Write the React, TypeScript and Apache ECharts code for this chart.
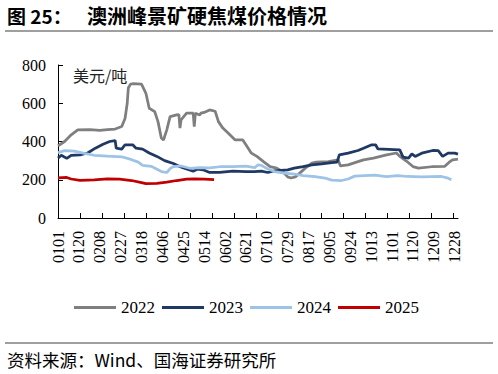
import React, { useEffect, useRef } from 'react';
import * as echarts from 'echarts';

// Day-of-year categories (MMDD)
const categories: string[] = (() => {
  const out: string[] = [];
  for (let i = 0; i < 365; i++) {
    const d = new Date(2023, 0, 1 + i);
    const mm = String(d.getMonth() + 1).padStart(2, '0');
    const dd = String(d.getDate()).padStart(2, '0');
    out.push(mm + dd);
  }
  return out;
})();

const tickLabels = [
  '0101', '0120', '0208', '0227', '0318', '0406', '0425', '0514', '0602', '0621',
  '0710', '0729', '0817', '0905', '0924', '1013', '1101', '1120', '1209', '1228',
];

const legendNames = ['2022', '2023', '2024', '2025'];
const lineColors = ['#7F7F7F', '#1F3864', '#9DC3E6', '#C00000'];

// [dayIndex, USD/t]
const data2022: [number, number][] = [
  [0, 377], [6, 400], [12, 435], [18, 461], [29, 462], [38, 458], [45, 462], [52, 465],
  [58, 478], [61, 520], [63, 600], [64, 680], [66, 700], [68, 702], [76, 700], [80, 652],
  [83, 574], [88, 556], [91, 504], [94, 418], [96, 408], [99, 461], [102, 530], [108, 539],
  [110, 540], [111, 470], [112, 513], [117, 548], [123, 548], [124, 478], [125, 548],
  [129, 539], [130, 548], [133, 552], [138, 565], [143, 558], [146, 504], [150, 470],
  [155, 443], [161, 409], [168, 409], [171, 383], [176, 339], [181, 322], [187, 295],
  [193, 269], [199, 261], [204, 245], [209, 215], [212, 209], [216, 215], [221, 240],
  [226, 265], [231, 287], [235, 292], [246, 295], [255, 304], [257, 272], [264, 278],
  [273, 295], [278, 304], [287, 313], [299, 330], [308, 340], [311, 322], [317, 298],
  [323, 269], [328, 261], [340, 268], [352, 270], [356, 292], [359, 304], [364, 308],
];

const data2023: [number, number][] = [
  [0, 313], [3, 328], [8, 312], [12, 328], [20, 330], [27, 340], [34, 365], [41, 386],
  [47, 400], [52, 405], [53, 365], [58, 360], [61, 383], [68, 383], [71, 365], [77, 360],
  [83, 340], [90, 322], [97, 300], [105, 285], [111, 268], [117, 256], [123, 245],
  [127, 256], [132, 252], [138, 238], [147, 238], [159, 245], [171, 243], [179, 243],
  [185, 245], [191, 238], [197, 247], [209, 252], [215, 261], [223, 269], [231, 278],
  [240, 283], [249, 290], [254, 292], [256, 330], [264, 339], [273, 353], [278, 365],
  [285, 382], [289, 383], [291, 362], [306, 358], [311, 356], [314, 318], [319, 313],
  [322, 335], [325, 322], [331, 339], [341, 353], [346, 352], [350, 322], [355, 339],
  [361, 339], [364, 334],
];

const data2024: [number, number][] = [
  [0, 342], [6, 352], [15, 350], [24, 338], [33, 328], [45, 323], [58, 320], [67, 305],
  [73, 292], [77, 275], [85, 270], [91, 252], [94, 243], [99, 238], [102, 258], [105, 269],
  [112, 272], [120, 260], [129, 264], [138, 262], [147, 268], [159, 269], [171, 271],
  [179, 263], [182, 278], [185, 275], [191, 256], [197, 243], [206, 235], [215, 230],
  [223, 222], [234, 216], [243, 209], [249, 198], [258, 196], [264, 204], [270, 219],
  [288, 224], [299, 216], [309, 221], [318, 217], [331, 215], [349, 217], [354, 210],
  [358, 200],
];

const data2025: [number, number][] = [
  [0, 210], [8, 212], [12, 204], [20, 197], [33, 199], [45, 204], [56, 203], [67, 196],
  [76, 185], [80, 180], [90, 181], [99, 188], [108, 196], [117, 203], [124, 205],
  [133, 203], [142, 201],
];

const seriesData = [data2022, data2023, data2024, data2025];

const SERIF = '"Liberation Serif", "Times New Roman", serif';
const CJK = '"Noto Sans CJK SC", sans-serif';

export default function App() {
  const ref = useRef<HTMLDivElement>(null);

  useEffect(() => {
    const chart = echarts.init(ref.current!, null, { renderer: 'svg' });
    chart.setOption({
      animation: false,
      backgroundColor: '#fff',
      grid: { left: 58, right: 40, top: 65, bottom: 156, containLabel: false },
      legend: {
        data: legendNames,
        left: 69,
        top: 294,
        icon: 'rect',
        itemWidth: 42,
        itemHeight: 3,
        itemGap: 7,
        textStyle: { fontFamily: SERIF, fontSize: 17, color: '#000' },
      },
      xAxis: {
        type: 'category',
        data: categories,
        boundaryGap: false,
        axisLine: { lineStyle: { color: '#000', width: 1 } },
        axisTick: {
          show: true,
          inside: true,
          length: 5,
          interval: (i: number) => i > 0 && i % 20 === 0,
          lineStyle: { color: '#000' },
        },
        axisLabel: {
          interval: (_i: number, v: string) => tickLabels.includes(v),
          rotate: 90,
          margin: 13,
          fontFamily: SERIF,
          fontSize: 16,
          color: '#000',
        },
        splitLine: { show: false },
      },
      yAxis: {
        type: 'value',
        min: 0,
        max: 800,
        interval: 200,
        axisLine: { show: true, lineStyle: { color: '#000', width: 1 } },
        axisTick: { show: true, inside: true, length: 5, lineStyle: { color: '#000' } },
        axisLabel: { margin: 12, fontFamily: SERIF, fontSize: 16, color: '#000' },
        splitLine: { show: false },
      },
      series: legendNames.map((name, i) => ({
        name,
        type: 'line',
        data: seriesData[i],
        showSymbol: false,
        symbol: 'none',
        lineStyle: { color: lineColors[i], width: 2.75 },
        itemStyle: { color: lineColors[i] },
        z: 2 + i,
      })),
      graphic: [
        {
          type: 'text',
          left: 7,
          top: 6,
          style: { text: '图 25：', fontFamily: CJK, fontSize: 19, fontWeight: 'bold', fill: '#000' },
        },
        {
          type: 'text',
          left: 87,
          top: 5,
          style: { text: '澳洲峰景矿硬焦煤价格情况', fontFamily: CJK, fontSize: 20, fontWeight: 'bold', fill: '#000' },
        },
        {
          type: 'line',
          shape: { x1: 5, y1: 31, x2: 493, y2: 31 },
          style: { stroke: '#7F7F7F', lineWidth: 1.5 },
        },
        {
          type: 'text',
          left: 73,
          top: 67,
          style: { text: '美元/吨', fontFamily: CJK, fontSize: 16, fill: '#222' },
        },
        {
          type: 'line',
          shape: { x1: 5, y1: 343, x2: 493, y2: 343 },
          style: { stroke: '#7F7F7F', lineWidth: 1.5 },
        },
        {
          type: 'text',
          left: 7,
          top: 351,
          style: { text: '资料来源：Wind、国海证券研究所', fontFamily: CJK, fontSize: 17.5, fill: '#000' },
        },
      ],
    });
    return () => chart.dispose();
  }, []);

  return (
    <div
      ref={ref}
      style={{ position: 'fixed', left: 0, top: 0, width: 498, height: 374, background: '#fff' }}
    />
  );
}
